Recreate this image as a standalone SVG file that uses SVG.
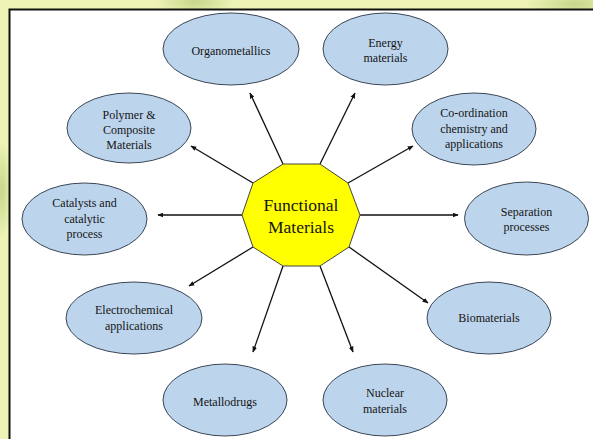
<svg xmlns="http://www.w3.org/2000/svg" width="593" height="439" viewBox="0 0 593 439">
<style>
.node ellipse{fill:#bdd5ec;stroke:#3b4656;stroke-width:1}
text{font-family:'Liberation Serif','DejaVu Serif','Times New Roman',Times,serif;fill:#141414;text-anchor:middle}
.node text{font-size:12px}
.center text{font-size:17.5px}
#connectors line{stroke:#111;stroke-width:1.3;marker-end:url(#ah)}
</style>
<defs>
<marker id="ah" viewBox="0 0 10 8" refX="9" refY="4" markerWidth="6" markerHeight="5" orient="auto" markerUnits="userSpaceOnUse">
<path d="M0,0 L10,4 L0,8 z" fill="#111"/>
</marker>
<radialGradient id="g1" cx="0.5" cy="0.5" r="0.5"><stop offset="0" stop-color="#c6d68a"/><stop offset="1" stop-color="#c6d68a" stop-opacity="0"/></radialGradient>
</defs>
<rect width="593" height="439" fill="#eef4b6"/>
<ellipse cx="195" cy="2" rx="40" ry="14" fill="url(#g1)"/>
<ellipse cx="575" cy="4" rx="50" ry="14" fill="url(#g1)"/>
<ellipse cx="2" cy="190" rx="10" ry="50" fill="url(#g1)"/>
<rect x="9.5" y="9.5" width="600" height="450" fill="#ffffff" stroke="#111" stroke-width="2"/>

<g id="connectors">
<line x1="283" y1="164" x2="250" y2="93"/>
<line x1="320" y1="164" x2="355" y2="93"/>
<line x1="253" y1="183" x2="191" y2="146"/>
<line x1="348" y1="183" x2="413" y2="146"/>
<line x1="242" y1="215" x2="158" y2="215"/>
<line x1="360" y1="215" x2="458" y2="215"/>
<line x1="253" y1="247" x2="189" y2="286"/>
<line x1="349" y1="247" x2="428" y2="303"/>
<line x1="283" y1="266" x2="253" y2="352"/>
<line x1="320" y1="266" x2="353" y2="352"/>
</g>

<g id="functional-materials" class="center" font-family="Liberation Serif, serif">
<polygon points="283,164 320,164 348,183 360,215 349,247 320,266 283,266 253,247 242,215 253,183" fill="#ffff00" stroke="#444" stroke-width="1"/>
<text x="301" y="211">Functional</text>
<text x="301" y="233">Materials</text>
</g>

<g id="organometallics" class="node"><ellipse cx="231" cy="49" rx="68" ry="36"/><text x="231" y="55">Organometallics</text></g>
<g id="energy-materials" class="node"><ellipse cx="385.5" cy="49" rx="62.5" ry="36"/><text x="385.5" y="47">Energy</text><text x="385.5" y="62">materials</text></g>
<g id="polymer-composite" class="node"><ellipse cx="129" cy="128" rx="62" ry="35"/><text x="129" y="119">Polymer &amp;</text><text x="129" y="134">Composite</text><text x="129" y="149">Materials</text></g>
<g id="coordination" class="node"><ellipse cx="474" cy="129" rx="62" ry="36"/><text x="474" y="117">Co-ordination</text><text x="474" y="133">chemistry and</text><text x="474" y="148">applications</text></g>
<g id="catalysts" class="node"><ellipse cx="84.5" cy="219" rx="62.5" ry="36"/><text x="84.5" y="207">Catalysts and</text><text x="84.5" y="223">catalytic</text><text x="84.5" y="238">process</text></g>
<g id="separation" class="node"><ellipse cx="526.5" cy="218.5" rx="62" ry="36.5"/><text x="526.5" y="216">Separation</text><text x="526.5" y="231">processes</text></g>
<g id="electrochemical" class="node"><ellipse cx="134" cy="318" rx="68" ry="36"/><text x="134" y="314">Electrochemical</text><text x="134" y="330">applications</text></g>
<g id="biomaterials" class="node"><ellipse cx="489" cy="318" rx="62" ry="36"/><text x="489" y="322">Biomaterials</text></g>
<g id="metallodrugs" class="node"><ellipse cx="225" cy="400" rx="62" ry="36"/><text x="225" y="406">Metallodrugs</text></g>
<g id="nuclear-materials" class="node"><ellipse cx="385" cy="400" rx="62" ry="36"/><text x="385" y="397">Nuclear</text><text x="385" y="413">materials</text></g>
</svg>
